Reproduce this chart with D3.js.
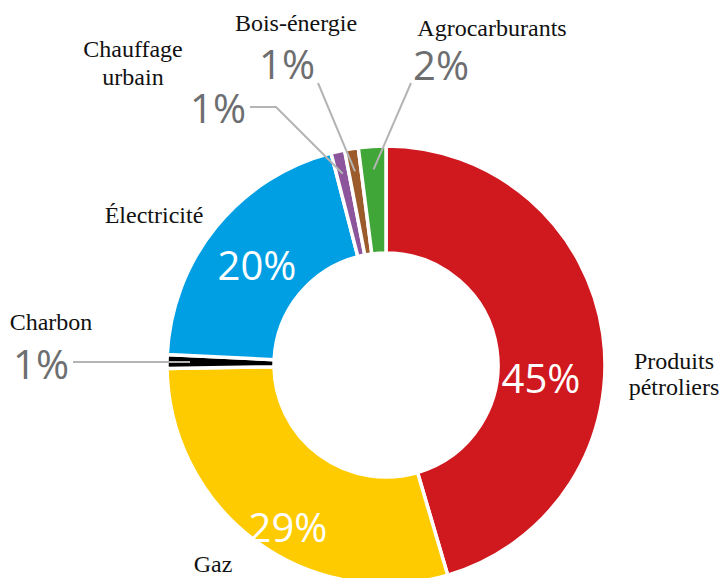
<!DOCTYPE html>
<html>
<head>
<meta charset="utf-8">
<script src="https://cdn.jsdelivr.net/npm/d3@7/dist/d3.min.js"></script>
<style>
  html, body { margin: 0; padding: 0; background: #fff; }
  svg { display: block; }
  .name { font-family: "Liberation Serif", "DejaVu Serif", serif; font-size: 24px; fill: #111; }
  .pct { font-family: "Open Sans", sans-serif; font-size: 40px; }
</style>
</head>
<body>
<svg id="chart" width="720" height="578"></svg>
<script>
// Energy mix by source (percent)
const categories = ["Produits pétroliers", "Gaz", "Charbon", "Électricité", "Chauffage urbain", "Bois-énergie", "Agrocarburants"];
const shares = [45, 29, 1, 20, 1, 1, 2];
const colors = ["#d0181f", "#fecb00", "#000000", "#009fe3", "#8c559c", "#9b5b2b", "#3fa637"];

// Name label lines (multi-line names split here)
const nameLines = [["Produits", "pétroliers"], ["Gaz"], ["Charbon"], ["Électricité"], ["Chauffage", "urbain"], ["Bois-énergie"], ["Agrocarburants"]];

const cx = 386, cy = 365, outerR = 219, innerR = 112;

const svg = d3.select("#chart");
const g = svg.append("g").attr("transform", `translate(${cx},${cy})`);

const pie = d3.pie().sort(null).value(d => d.value);
const data = categories.map((c, i) => ({ name: c, value: shares[i], color: colors[i], lines: nameLines[i] }));
const arcs = pie(data);

const arc = d3.arc().innerRadius(innerR).outerRadius(outerR);
const leaderArc = d3.arc().innerRadius(196).outerRadius(196);

g.selectAll("path.slice")
  .data(arcs)
  .enter().append("path")
  .attr("class", "slice")
  .attr("d", arc)
  .attr("fill", d => d.data.color)
  .attr("stroke", "#fff")
  .attr("stroke-width", 3.5)
  .attr("stroke-linejoin", "miter");

// Label placement: inside (white) or outside (grey with leader line)
const layout = {
  "Produits pétroliers": { pct: [541, 393], inside: true, name: [674, 369], lh: 26 },
  "Gaz":                 { pct: [288, 542], inside: true, name: [213, 572], lh: 26 },
  "Charbon":             { pct: [41, 0], inside: false, name: [51, 330], lh: 26, leader: "horizontal", from: 73 },
  "Électricité":         { pct: [257, 280], inside: true, name: [154, 223], lh: 26 },
  "Chauffage urbain":    { pct: [218, 123], inside: false, name: [133, 57], lh: 28, leader: [[250, 107], [276, 107]] },
  "Bois-énergie":        { pct: [287, 79], inside: false, name: [296, 31], lh: 26, leader: [[318, 83]] },
  "Agrocarburants":      { pct: [441, 80], inside: false, name: [492, 36], lh: 26, leader: [[411, 83]] }
};

const fmt = v => v + "%";
const labels = svg.append("g");

arcs.forEach(a => {
  const L = layout[a.data.name];
  const end = leaderArc.centroid(a);
  const ex = end[0] + cx, ey = end[1] + cy;
  let pctY = L.pct[1];

  if (!L.inside) {
    let pts;
    if (L.leader === "horizontal") {
      pts = [[L.from, ey], [ex, ey]];
      pctY = ey + 17;
    } else {
      pts = L.leader.concat([[ex, ey]]);
    }
    labels.append("path")
      .attr("d", d3.line()(pts))
      .attr("fill", "none")
      .attr("stroke", "#b4b4b4")
      .attr("stroke-width", 2);
  }

  labels.append("text")
    .attr("class", "pct")
    .attr("x", L.pct[0])
    .attr("y", pctY)
    .attr("text-anchor", "middle")
    .attr("fill", L.inside ? "#ffffff" : "#6d6e70")
    .text(fmt(a.data.value));

  const t = labels.append("text")
    .attr("class", "name")
    .attr("text-anchor", "middle");
  a.data.lines.forEach((line, i) => {
    t.append("tspan").attr("x", L.name[0]).attr("y", L.name[1] + i * L.lh).text(line);
  });
});
</script>
</body>
</html>
